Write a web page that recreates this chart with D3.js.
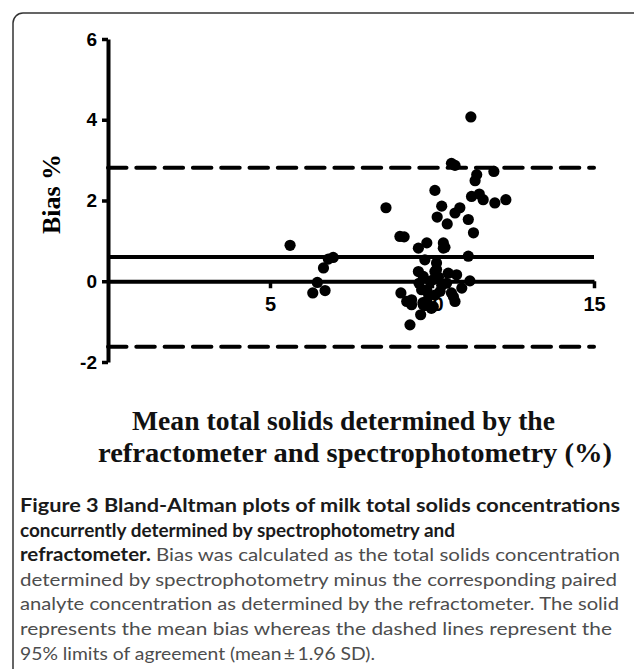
<!DOCTYPE html>
<html><head><meta charset="utf-8">
<script src="https://cdn.jsdelivr.net/npm/d3@7"></script>
<style>html,body{margin:0;padding:0;background:#fff;}svg{display:block;}</style>
</head><body>
<script>
// ---- data ----
const yTicks = [-2, 0, 2, 4, 6];
const xTicks = [5, 10, 15];
const meanBias = 0.6;
const upperLoA = 2.81;
const lowerLoA = -1.62;
const meanX = [5.62,6.95,6.80,6.65,6.46,6.32,6.70,
  8.58,9.01,9.14,9.58,9.84,9.78,9.58,9.04,9.22,9.37,9.37,9.68,9.65,9.32,9.72,
  11.20,10.60,10.71,11.91,11.38,11.33,10.09,11.22,11.46,11.58,11.94,12.28,10.30,10.86,10.71,10.16,10.47,11.12,11.28,
  10.35,10.40,11.12,10.14,10.09,10.76,11.17,9.94,10.45,10.92,10.60,10.09,9.84,10.71,9.94,
  10.35,10.14,9.73,10.04,9.84,10.25,10.66,10.04,9.73,9.98,10.20,9.90,10.30,10.50,9.60];
const biasY = [0.89,0.59,0.55,0.33,-0.03,-0.29,-0.23,
  1.82,1.11,1.10,0.82,0.95,0.53,0.24,-0.29,-0.50,-0.46,-0.58,-0.21,-0.83,-1.08,-0.53,
  4.07,2.92,2.87,2.72,2.64,2.49,2.25,2.10,2.16,2.02,1.94,2.02,1.86,1.82,1.69,1.59,1.42,1.53,1.20,
  0.95,0.84,0.62,0.45,0.24,0.16,0.01,0.00,-0.05,-0.17,-0.29,-0.34,-0.50,-0.50,-0.63,
  0.82,0.29,0.12,0.04,-0.21,-0.25,-0.38,-0.63,-0.58,-0.67,0.10,-0.35,-0.10,0.20,-0.05];
const yLabel = "Bias %";
const xLabelLines = ["Mean total solids determined by the", "refractometer and spectrophotometry (%)"];
const captionLines = [
  [{t:"Figure 3 Bland-Altman plots of milk total solids concentrations", b:true}],
  [{t:"concurrently determined by spectrophotometry and", b:true}],
  [{t:"refractometer.", b:true}, {t:" Bias was calculated as the total solids concentration", b:false}],
  [{t:"determined by spectrophotometry minus the corresponding paired", b:false}],
  [{t:"analyte concentration as determined by the refractometer. The solid", b:false}],
  [{t:"represents the mean bias whereas the dashed lines represent the", b:false}],
  [{t:"95% limits of agreement (mean\u2009\u00B1\u20091.96 SD).", b:false}]
];

// ---- layout ----
const W = 634, H = 669;
const svg = d3.select("body").append("svg").attr("width", W).attr("height", H);

svg.append("rect").attr("x", 13).attr("y", 13).attr("width", 640).attr("height", 700)
  .attr("rx", 10).attr("fill", "none").attr("stroke", "#333").attr("stroke-width", 1.5);

const x = d3.scaleLinear().domain([0, 15]).range([108, 594]);
const y = d3.scaleLinear().domain([-2, 6]).range([362, 39]);

const g = svg.append("g");

// reference lines
g.append("line").attr("x1", x(0)).attr("x2", x(15)).attr("y1", y(meanBias)).attr("y2", y(meanBias))
  .attr("stroke", "#000").attr("stroke-width", 4);
[upperLoA, lowerLoA].forEach(v => {
  g.append("line").attr("x1", x(0)).attr("x2", x(15)).attr("y1", y(v)).attr("y2", y(v))
    .attr("stroke", "#000").attr("stroke-width", 4)
    .attr("stroke-dasharray", "18.5,9.8").attr("stroke-linecap", "round");
});

// axes
const fmt = d => String(d);
const yAxis = d3.axisLeft(y).tickValues(yTicks).tickSizeInner(6).tickSizeOuter(0).tickPadding(5)
  .tickFormat(fmt);
const ya = g.append("g").attr("transform", `translate(${x(0)},0)`).call(yAxis);
const xAxis = d3.axisBottom(x).tickValues(xTicks).tickSizeInner(7).tickSizeOuter(0).tickPadding(9)
  .tickFormat(fmt);
const xa = g.append("g").attr("transform", `translate(0,${y(0)})`).call(xAxis);
[ya, xa].forEach(a => {
  a.select(".domain").attr("stroke", "#000").attr("stroke-width", 4);
  a.selectAll(".tick line").attr("stroke", "#000").attr("stroke-width", 3.5);
  a.selectAll(".tick text").attr("fill", "#000")
    .style("font-family", "'Liberation Sans', Arial, sans-serif")
    .style("font-weight", "bold").style("font-size", "20px");
});
ya.selectAll(".tick text").style("font-size", "19px");

// points
const pts = meanX.map((v, i) => ({mx: v, b: biasY[i]}));
g.selectAll("circle.pt").data(pts).enter().append("circle").attr("class", "pt")
  .attr("cx", d => x(d.mx)).attr("cy", d => y(d.b)).attr("r", 5.6).attr("fill", "#000");

// axis titles
svg.append("text").attr("transform", "translate(60,194) rotate(-90)")
  .attr("text-anchor", "middle")
  .style("font-family", "'Liberation Serif', 'Times New Roman', serif")
  .style("font-weight", "bold").style("font-size", "26px").attr("fill", "#000")
  .text(yLabel);

const xl = [{x0: 132, w: 423, yb: 430}, {x0: 98, w: 514, yb: 462}];
xLabelLines.forEach((s, i) => {
  svg.append("text").attr("x", xl[i].x0).attr("y", xl[i].yb)
    .attr("textLength", xl[i].w).attr("lengthAdjust", "spacingAndGlyphs")
    .style("font-family", "'Liberation Serif', serif")
    .style("font-weight", "bold").style("font-size", "27px").attr("fill", "#111")
    .text(s);
});

// caption
const capW = [600, 435, 600, 597, 599, 592, 355];
captionLines.forEach((parts, i) => {
  const t = svg.append("text").attr("x", 20).attr("y", 512 + i * 24.6)
    .attr("textLength", capW[i]).attr("lengthAdjust", "spacingAndGlyphs")
    .style("font-family", "Lato, sans-serif").style("font-size", "18px");
  parts.forEach(p => {
    t.append("tspan").text(p.t)
      .style("font-weight", p.b ? "bold" : "normal")
      .attr("fill", p.b ? "#1a1a1a" : "#4d4d4d");
  });
});
</script>
</body></html>
